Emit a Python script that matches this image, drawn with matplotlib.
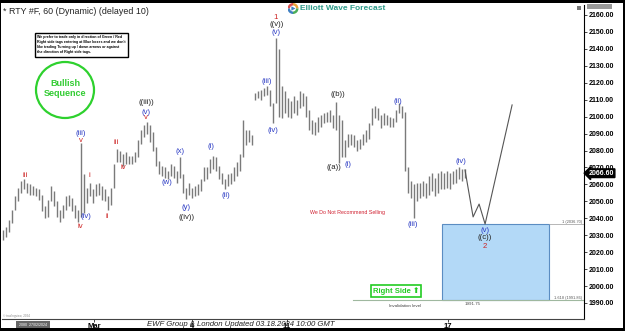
import matplotlib
matplotlib.use('Agg')
import matplotlib.pyplot as plt
from matplotlib.patches import Rectangle, Ellipse, Wedge
import matplotlib.transforms as mtransforms

plt.rcParams['font.family'] = ['Liberation Sans', 'DejaVu Sans']

# ---------------- data (hourly bars) ----------------
lows = [2027, 2029, 2032, 2037, 2045, 2050, 2055, 2057, 2055, 2054,
        2054, 2053, 2051, 2044, 2040, 2041, 2050, 2047, 2041, 2038,
        2040, 2045, 2047, 2044, 2040, 2038, 2041, 2043, 2049, 2053,
        2049, 2053, 2054, 2051, 2050, 2045, 2048, 2058, 2073, 2073,
        2071, 2072, 2072, 2072, 2073, 2076, 2084, 2088, 2090, 2085,
        2080, 2071, 2066, 2065, 2064, 2063, 2065, 2064, 2061, 2064,
        2055, 2051.5, 2054, 2052, 2053, 2054, 2056, 2062, 2063, 2067,
        2069, 2068, 2063, 2060, 2057.5, 2059, 2060, 2062, 2065, 2068,
        2076, 2083, 2085, 2083, 2110, 2111, 2110, 2112, 2113, 2106,
        2096, 2108, 2100, 2099, 2102, 2100, 2099, 2102, 2101, 2105,
        2106, 2100, 2092, 2090, 2089, 2091, 2094, 2096, 2097, 2097,
        2093, 2092, 2072.5, 2076, 2076, 2082, 2083, 2082, 2080, 2081,
        2083, 2085, 2087, 2095, 2099, 2098, 2093, 2095, 2095, 2094,
        2094, 2097, 2102, 2099, 2068, 2055, 2052, 2040, 2050, 2052,
        2053, 2052, 2054, 2056, 2053, 2055, 2057, 2057, 2058, 2057,
        2060, 2061, 2063, 2062, 2064]
highs = [2033, 2035, 2039, 2045, 2053, 2058, 2062, 2063, 2061, 2060,
         2059, 2058, 2057, 2054, 2047, 2051, 2059, 2056, 2050, 2045,
         2048, 2053, 2054, 2052, 2048, 2045, 2084.5, 2066, 2058, 2061,
         2057, 2060, 2061, 2059, 2057, 2053, 2058, 2072, 2081, 2080,
         2078, 2079, 2077, 2077, 2079, 2086, 2092, 2095, 2097, 2095,
         2091, 2082, 2074, 2071, 2070, 2068, 2072, 2071, 2068, 2076,
         2066, 2058, 2061, 2058, 2059, 2060, 2063, 2070, 2070, 2075,
         2077, 2076, 2071, 2067, 2063, 2066, 2067, 2070, 2073, 2078,
         2098, 2092, 2092, 2089, 2114, 2115, 2116, 2117, 2118, 2116,
         2108, 2146.4, 2140, 2118, 2115, 2111, 2109, 2112, 2110, 2115,
         2114, 2112, 2104, 2098, 2097, 2100, 2101, 2102, 2103, 2104,
         2101, 2108.6, 2101, 2098, 2086, 2090, 2090, 2089, 2086, 2087,
         2090, 2092, 2096, 2105, 2106, 2105, 2101, 2102, 2101, 2100,
         2099, 2104, 2108, 2106, 2103, 2070, 2062, 2060, 2061, 2061,
         2062, 2061, 2065, 2067, 2064, 2067, 2068, 2067, 2068, 2067,
         2068, 2069, 2070, 2069, 2069]

proj_x = [154, 156.7, 158.7, 160.7, 169.7]
proj_y = [2068.5, 2040.8, 2048.4, 2036.6, 2106.9]

box_top = 2036.70
box_bottom = 1991.86
invalidation = 1991.75
last_price = 2066.60

yticks = list(range(1990, 2161, 10))
xtick_pos = [30.3, 63, 94.7, 148.3]
xtick_labels = ['Mar', '4', '11', '17']

blue = '#2b3bc4'
red = '#cc2222'
black = '#222222'
wave_labels = [
    ('iii', 7.3, 2065.5, red), ('(iii)', 26, 2090.3, blue), ('v', 26, 2086.2, red),
    ('i', 28.7, 2065.0, red), ('ii', 34.7, 2041.3, red), ('(iv)', 27.5, 2040.8, blue),
    ('iv', 25.7, 2034.9, red), ('iii', 37.7, 2085.0, red), ('iv', 40, 2069.7, red),
    ('((iii))', 47.7, 2108.1, black), ('(v)', 47.7, 2102.7, blue), ('v', 47.7, 2099.4, red),
    ('(w)', 54.7, 2061.4, blue), ('(x)', 59, 2079.7, blue), ('(y)', 61, 2046.1, blue),
    ('((iv))', 61.3, 2040.2, black), ('(i)', 69.3, 2082.1, blue), ('(ii)', 74.3, 2053.7, blue),
    ('(iii)', 88, 2121.0, blue), ('(iv)', 90, 2092.1, blue), ('1', 91, 2158.8, red),
    ('((v))', 91.3, 2154.1, black), ('(v)', 91, 2149.4, blue), ('((b))', 111.7, 2112.8, black),
    ('((a))', 110.3, 2069.7, black), ('(i)', 115, 2072.0, blue), ('(ii)', 131.7, 2109.2, blue),
    ('(iii)', 136.7, 2036.6, blue), ('(iv)', 152.7, 2073.8, blue),
    ('(v)', 160.7, 2032.5, blue), ('((c))', 160.7, 2028.8, black), ('2', 160.7, 2023.6, red),
]

# ---------------- figure ----------------
W, H = 625, 331
fig = plt.figure(figsize=(W / 100, H / 100), dpi=100)
fig.patch.set_facecolor('white')
ax = fig.add_axes([2 / W, (H - 319) / H, (584 - 2) / W, (319 - 5) / H])
ax.set_xlim(-1 / 3, 581 / 3)
ax.set_ylim(1980.54, 2165.9)

n = len(highs)
ax.vlines(range(n), lows, highs, color='#7a7a7a', lw=1.0)

ax.plot(proj_x, proj_y, color='#555555', lw=0.8)

ax.add_patch(Rectangle((146.3, box_bottom), 182 - 146.3, box_top - box_bottom,
                       fc='#b3d9f7', ec='#5b8dc2', lw=0.8, zorder=1))
ax.plot([182, 193.67], [box_top, box_top], color='#9a9a9a', lw=0.5)
ax.plot([116.7, 193.67], [invalidation, invalidation], color='#9fb89f', lw=0.8)

for t, x, y, c in wave_labels:
    ax.text(x, y, t, ha='center', va='center', fontsize=5.6, color=c, zorder=5)

ax.text(189.7, 2037.9, '1 (2036.70)', fontsize=2.8, color='#555', ha='center', va='center')
ax.text(188.3, 1993.0, '1.618 (1991.86)', fontsize=2.8, color='#555', ha='center', va='center')
ax.text(134, 1988.2, 'Invalidation level', fontsize=3.2, color='#444', ha='center', va='center')
ax.text(156.7, 1989.4, '1991.75', fontsize=3.2, color='#444', ha='center', va='center')
ax.text(114.7, 2043.7, 'We Do Not Recommend Selling', fontsize=3.8, color='#d02030',
        ha='center', va='center')
ax.text(131, 1997.1, 'Right Side \u2B06', fontsize=5.5, color='#22cc22', fontweight='bold',
        ha='center', va='center',
        bbox=dict(boxstyle='square,pad=0.25', fc='white', ec='#22cc22', lw=1.2))

# axes styling
for s in ['top', 'left']:
    ax.spines[s].set_visible(False)
ax.spines['right'].set_color('black')
ax.spines['right'].set_linewidth(0.8)
ax.spines['bottom'].set_color('#444444')
ax.spines['bottom'].set_linewidth(0.8)
ax.yaxis.tick_right()
ax.set_yticks(yticks)
ax.set_yticklabels([f'{v:.2f}' for v in yticks], fontsize=5, fontweight='bold')
ax.tick_params(axis='y', length=2, pad=1.5, width=0.5)
ax.set_xticks(xtick_pos)
ax.set_xticklabels(xtick_labels, fontsize=5.5, fontweight='bold')
ax.tick_params(axis='x', length=2, pad=1, width=0.5)

trans = mtransforms.blended_transform_factory(ax.transAxes, ax.transData)
ax.text(1.008, last_price, f'{last_price:.2f}', transform=trans, ha='left', va='center',
        fontsize=5, fontweight='bold', color='white', zorder=10,
        bbox=dict(boxstyle='larrow,pad=0.12', fc='black', ec='black'))

# ---------------- figure-level decorations ----------------
def fx(px):
    return px / W


def fy(py):
    return 1 - py / H

fig.text(fx(3), fy(12), '* RTY #F, 60 (Dynamic) (delayed 10)', fontsize=6.4,
         color='#222', va='center', ha='left')
fig.text(fx(300), fy(8.5), 'Elliott Wave Forecast', fontsize=6, fontweight='bold',
         color='#2e9b8a', va='center', ha='left')
lax = fig.add_axes([fx(287.5), fy(14), 11 / W, 11 / H])
lax.set_xlim(-1, 1); lax.set_ylim(-1, 1); lax.set_aspect('equal'); lax.axis('off')
for a0, a1, c in [(0, 90, '#e9a13b'), (90, 180, '#d94f4f'), (180, 270, '#3f7fc2'), (270, 360, '#4cae5a')]:
    lax.add_patch(Wedge((0, 0), 1, a0, a1, width=0.45, fc=c, ec='none'))
lax.add_patch(plt.Polygon([[-0.3, -0.4], [-0.3, 0.4], [0.45, 0]], fc='#3f7fc2', ec='none'))

# disclaimer box
fig.patches.append(Rectangle((fx(35), fy(57)), 93 / W, 24 / H, transform=fig.transFigure,
                             fill=False, ec='black', lw=1))
disc = ["We prefer to trade only in direction of Green / Red",
        "Right side tags entering at Blue boxes and we don't",
        "like trading Turning up / down arrows or against",
        "the direction of Right side tags."]
for i, line in enumerate(disc):
    fig.text(fx(37), fy(37.3 + 5 * i), line, fontsize=2.6, color='black', va='center',
             ha='left', fontweight='bold')

# bullish sequence circle
fig.patches.append(Ellipse((fx(65), fy(90)), 58 / W, 56 / H, transform=fig.transFigure,
                           fill=False, ec='#2ed12e', lw=1.6))
fig.text(fx(65), fy(84), 'Bullish', fontsize=6.5, fontweight='bold', color='#33cc33',
         ha='center', va='center')
fig.text(fx(65), fy(93), 'Sequence', fontsize=6.5, fontweight='bold', color='#33cc33',
         ha='center', va='center')

# footer
fig.text(fx(147), fy(324), 'EWF Group & London Updated 03.18.2024 10:00 GMT', fontsize=5.6,
         style='italic', color='#222', ha='left', va='center')
fig.patches.append(Rectangle((fx(16), fy(328)), 34 / W, 7 / H, transform=fig.transFigure,
                             fc='#666666', ec='none'))
fig.text(fx(33), fy(324.5), '2080  27/02/2024', fontsize=2.6, color='white', ha='center', va='center')
fig.text(fx(3), fy(316), '\u00a9 tradingview, 2024', fontsize=2.2, color='#888', ha='left', va='center')

# top-right small widgets
fig.patches.append(Rectangle((fx(587), fy(9)), 25 / W, 5 / H, transform=fig.transFigure,
                             fc='#999999', ec='none'))
fig.patches.append(Rectangle((fx(577), fy(10)), 4 / W, 4 / H, transform=fig.transFigure,
                             fc='#777777', ec='none'))

# frame
fig.patches.append(Rectangle((0, 1 - 3 / H), 1, 3 / H, transform=fig.transFigure,
                             fc='black', ec='none'))
fig.patches.append(Rectangle((0, 0), 1, 3 / H, transform=fig.transFigure,
                             fc='black', ec='none'))
fig.patches.append(Rectangle((0, 0), 1.5 / W, 1, transform=fig.transFigure,
                             fc='black', ec='none'))
fig.patches.append(Rectangle((1 - 2 / W, 0), 2 / W, 1, transform=fig.transFigure,
                             fc='black', ec='none'))

fig.savefig('out.png', dpi=100)
